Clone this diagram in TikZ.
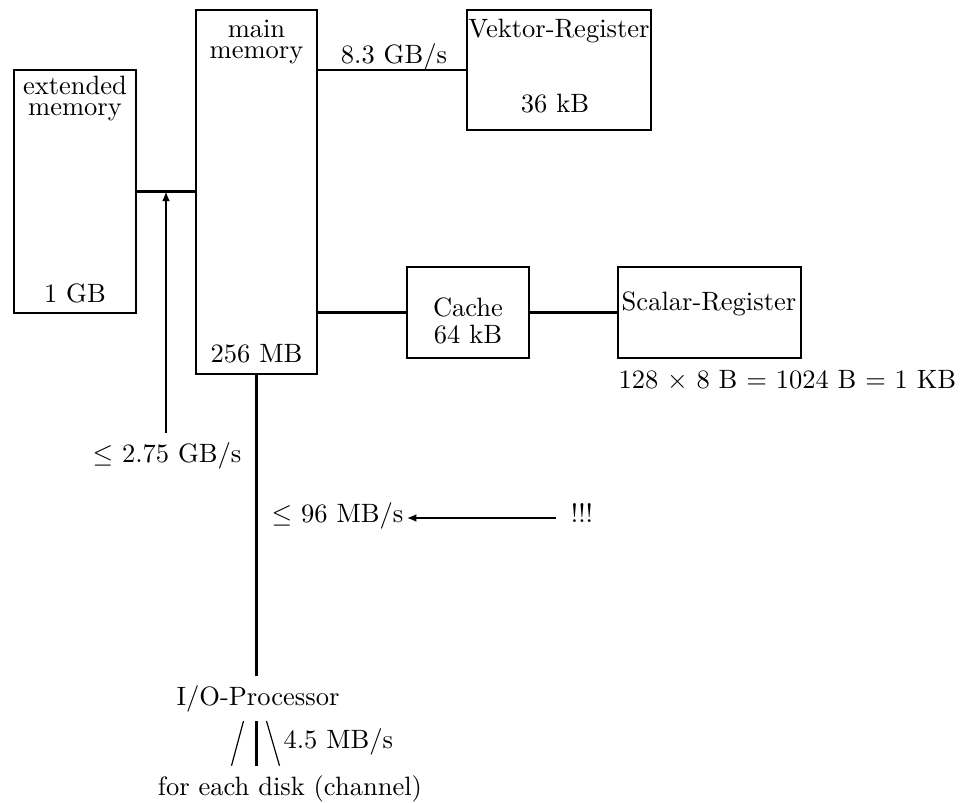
\documentclass[tikz,border=0pt]{standalone}
\usetikzlibrary{arrows.meta,calc}
\begin{document}
\begin{tikzpicture}[x=0.377pt,y=-0.377pt,
  box/.style={draw,line width=0.8pt,inner sep=0pt,outer sep=0pt},
  txt/.style={inner sep=0pt,anchor=base},
  ln/.style={line width=0.8pt},
  thinln/.style={line width=0.45pt},
  arr/.style={line width=0.8pt,-{Latex[length=3.6pt,width=3pt]}}]
\useasboundingbox (0,0) rectangle (978,803);
% boxes
\node[box,minimum width=122*0.377pt,minimum height=243*0.377pt] (ext) at (75,191.5) {};
\node[box,minimum width=121*0.377pt,minimum height=364*0.377pt] (main) at (256.5,192) {};
\node[box,minimum width=184*0.377pt,minimum height=120*0.377pt] (vek) at (559,70) {};
\node[box,minimum width=122*0.377pt,minimum height=91*0.377pt] (cache) at (468,312.5) {};
\node[box,minimum width=183*0.377pt,minimum height=91*0.377pt] (scal) at (709.5,312.5) {};
% texts
\node[txt] (extT) at (75,115) {\shortstack{extended\\memory}};
\node[txt] (ext1) at (75,302) {1 GB};
\node[txt] (mainT) at (256.5,58) {\shortstack{main\\memory}};
\node[txt] (main256) at (256.5,362) {256 MB};
\node[txt] (r83) at (394,63) {8.3 GB/s};
\node[txt] (vekT) at (559,37) {Vektor-Register};
\node[txt] (vek36) at (555,112) {36 kB};
\node[txt] (cacheT) at (468,343) {\shortstack{Cache\\64 kB}};
\node[txt] (scalT) at (709,310) {Scalar-Register};
\node[txt,anchor=base west] (calcT) at (618,388) {128 $\times$ 8 B $=$ 1024 B $=$ 1 KB};
\node[txt,inner sep=3.333pt] (r275) at (167,462) {$\leq$ 2.75 GB/s};
\node[txt] (r96) at (337.5,522) {$\leq$ 96 MB/s};
\node[txt] (bang) at (582,522) {!!!};
\node[anchor=base,inner sep=3.333pt] (io) at (258,705) {I/O-Processor};
\node[anchor=base west,inner sep=0pt] (r45) at (283,748) {4.5 MB/s};
\node[anchor=base,inner sep=3.333pt] (disk) at (290,795) {for each disk (channel)};
% connectors
\draw[ln] (ext.east) -- (ext.east -| main.west);
\coordinate (J) at ($(ext.east)!0.5!(ext.east -| main.west)$);
\draw[arr] (r275.north -| J) -- (J);
\draw[ln] (main.east |- vek.west) -- (vek.west);
\draw[ln] (main.east |- cache.west) -- (cache.west);
\draw[ln] (cache.east) -- (scal.west);
\draw[ln] (main.south) -- (main.south |- io.north);
\draw[arr] ($(bang.base west)+(-14,-4)$) -- ($(r96.base east)+(3,-4)$);
\draw[ln] (io.south -| main.south) -- (disk.north -| main.south);
\draw[thinln] ($(io.south -| main.south)+(-13,0)$) -- ($(disk.north -| main.south)+(-25,0)$);
\draw[thinln] ($(io.south -| main.south)+(10,0)$) -- ($(disk.north -| main.south)+(23,0)$);
\end{tikzpicture}
\end{document}
